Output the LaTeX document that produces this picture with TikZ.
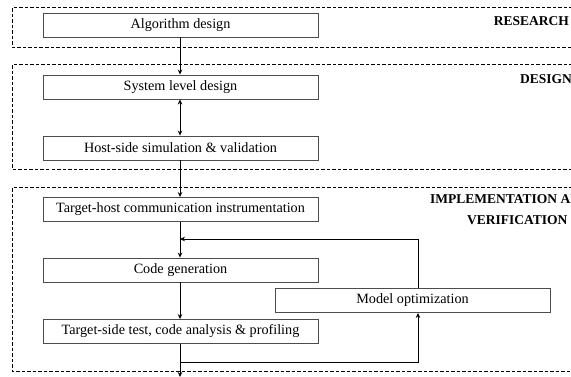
\documentclass[tikz,border=0pt]{standalone}
\usepackage{fontspec}
\setmainfont{Liberation Serif}
\usetikzlibrary{arrows.meta,calc}

\tikzset{
  phase/.style={draw=black, line width=0.7pt, dash pattern=on 3.5pt off 2pt},
  stepbox/.style={draw=black!70, line width=0.9pt, fill=white, minimum height=24pt,
    inner sep=0pt, font=\fontsize{14.2}{16}\selectfont},
  phasename/.style={font=\bfseries\fontsize{13.5}{15}\selectfont, inner sep=0pt},
  flow/.style={line width=0.8pt, -{Stealth[length=5pt,width=4.5pt]}},
  link/.style={line width=0.8pt}
}

\begin{document}
\begin{tikzpicture}[x=1pt,y=-1pt]
  \useasboundingbox (0,0) rectangle (571,376);
  \clip (0,0) rectangle (571,376);
  \fill[white] (0,0) rectangle (571,376);

  % phase frames (open to the right)
  \draw[phase] (600,7) -- (12.5,7) -- (12.5,47) -- (600,47);
  \draw[phase] (600,64) -- (12.5,64) -- (12.5,169) -- (600,169);
  \draw[phase] (600,187) -- (12.5,187) -- (12.5,371) -- (600,371);

  % phase names
  \node[phasename, anchor=base east] (research) at (569,25) {RESEARCH};
  \node[phasename, anchor=base east] (design) at (572,83) {DESIGN};
  \node[phasename, anchor=base west] (impl) at (430,203) {IMPLEMENTATION AND};
  \node[phasename, anchor=base west] (verif) at (467,224) {VERIFICATION};

  % process steps
  \node[stepbox, minimum width=275pt] (alg)  at (180.5,25)  {Algorithm design};
  \node[stepbox, minimum width=275pt] (sys)  at (180.5,87)  {System level design};
  \node[stepbox, minimum width=275pt] (host) at (180.5,148) {Host-side simulation \& validation};
  \node[stepbox, minimum width=275pt] (th)   at (180.5,209.5) {Target-host communication instrumentation};
  \node[stepbox, minimum width=275pt] (code) at (180.5,270) {Code generation};
  \node[stepbox, minimum width=275pt] (test) at (180.5,331.5) {Target-side test, code analysis \& profiling};
  \node[stepbox, minimum width=275pt] (model) at (412.5,300.5) {Model optimization};

  % helper points for the feedback loop
  \coordinate (out)   at (180,377);
  \coordinate (low)   at (180,362);
  \coordinate (fbx)   at (418,0);
  \coordinate (merge) at (180,239);

  % main flow
  \draw[flow] (alg.south -| out) -- (sys.north -| out);
  \draw[flow, {Stealth[length=5pt,width=4.5pt]}-{Stealth[length=5pt,width=4.5pt]}]
    (sys.south -| out) -- (host.north -| out);
  \draw[flow] (host.south -| out) -- (th.north -| out);
  \draw[flow] (th.south -| out) -- (code.north -| out);
  \draw[flow] (code.south -| out) -- (test.north -| out);
  \draw[flow] (test.south -| out) -- (out);

  % optimisation loop
  \draw[flow] (low) -| (model.south -| fbx);
  \draw[flow] (model.north -| fbx) |- (merge);
\end{tikzpicture}
\end{document}
